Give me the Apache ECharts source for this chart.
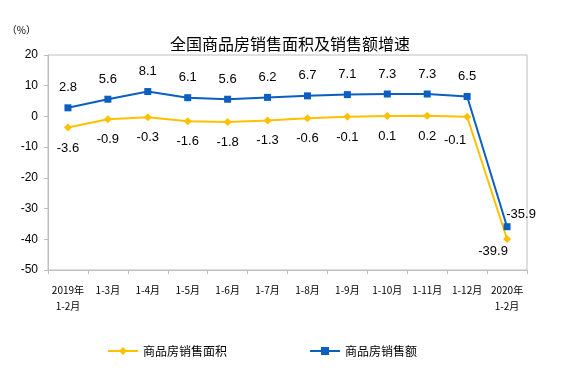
<!DOCTYPE html>
<html>
<head>
<meta charset="utf-8">
<script src="https://cdn.jsdelivr.net/npm/echarts@6/dist/echarts.min.js"></script>
<style>
  html, body { margin: 0; padding: 0; background: #fff; }
  #chart { width: 569px; height: 376px; }
</style>
</head>
<body>
<div id="chart"></div>
<script>
const categories = ["2019年\n1-2月", "1-3月", "1-4月", "1-5月", "1-6月", "1-7月", "1-8月", "1-9月", "1-10月", "1-11月", "1-12月", "2020年\n1-2月"];
// 商品房销售面积 增速
const areaValues = [-3.6, -0.9, -0.3, -1.6, -1.8, -1.3, -0.6, -0.1, 0.1, 0.2, -0.1, -39.9];
// 商品房销售额 增速
const salesValues = [2.8, 5.6, 8.1, 6.1, 5.6, 6.2, 6.7, 7.1, 7.3, 7.3, 6.5, -35.9];

const YELLOW = "#FFC000";
const BLUE = "#0B5FC0";
const numFont = "Liberation Sans, Arial, sans-serif";
const cjkFont = "Noto Sans CJK SC, sans-serif";

const chart = echarts.init(document.getElementById("chart"));
chart.setOption({
  animation: false,
  title: {
    text: "全国商品房销售面积及销售额增速",
    left: 285,
    textAlign: "center",
    top: 31,
    textStyle: { fontFamily: cjkFont, fontSize: 16, fontWeight: "normal", color: "#000" },
  },
  grid: {
    left: 48, right: 42, top: 55, bottom: 106,
    show: true, borderColor: "#bfbfbf", borderWidth: 1,
  },
  legend: {
    bottom: 14,
    left: 102,
    itemGap: 82,
    itemWidth: 30,
    itemHeight: 10,
    textStyle: { fontFamily: cjkFont, fontSize: 12, color: "#000" },
    data: ["商品房销售面积", "商品房销售额"],
  },
  xAxis: {
    type: "category",
    data: categories,
    boundaryGap: true,
    axisLine: { onZero: false, lineStyle: { color: "#bfbfbf" } },
    axisTick: { show: true, length: 4, lineStyle: { color: "#bfbfbf" } },
    axisLabel: {
      interval: 0, margin: 12, color: "#000",
      fontFamily: cjkFont, fontSize: 10, lineHeight: 16,
    },
  },
  yAxis: {
    type: "value",
    min: -50, max: 20, interval: 10,
    name: "（%）",
    nameLocation: "end",
    nameGap: 20,
    nameTextStyle: { fontFamily: cjkFont, fontSize: 10, color: "#000", align: "right", padding: [0, 12, 0, 0] },
    axisLine: { show: true, lineStyle: { color: "#bfbfbf" } },
    axisTick: { show: true, length: 4, lineStyle: { color: "#bfbfbf" } },
    splitLine: { show: false },
    axisLabel: { color: "#000", fontFamily: numFont, fontSize: 12, margin: 10 },
  },
  series: [
    {
      name: "商品房销售面积",
      type: "line",
      data: areaValues,
      symbol: "diamond",
      symbolSize: 8,
      itemStyle: { color: YELLOW },
      lineStyle: { color: YELLOW, width: 2 },
      label: {
        show: true, position: "bottom", distance: 10,
        fontFamily: numFont, fontSize: 13, color: "#000",
      },
      labelLayout: function (p) {
        if (p.dataIndex === areaValues.length - 1) {
          return { dx: -14, dy: -8 };
        }
        if (p.dataIndex === areaValues.length - 2) {
          return { dx: -12, dy: 3 };
        }
        return {};
      },
      z: 2,
    },
    {
      name: "商品房销售额",
      type: "line",
      data: salesValues,
      symbol: "rect",
      symbolSize: 7,
      itemStyle: { color: BLUE },
      lineStyle: { color: BLUE, width: 2 },
      label: {
        show: true, position: "top", distance: 10,
        fontFamily: numFont, fontSize: 13, color: "#000",
      },
      labelLayout: function (p) {
        if (p.dataIndex === salesValues.length - 1) {
          return { dx: 14, dy: 8 };
        }
        return {};
      },
      z: 3,
    },
  ],
});
</script>
</body>
</html>
